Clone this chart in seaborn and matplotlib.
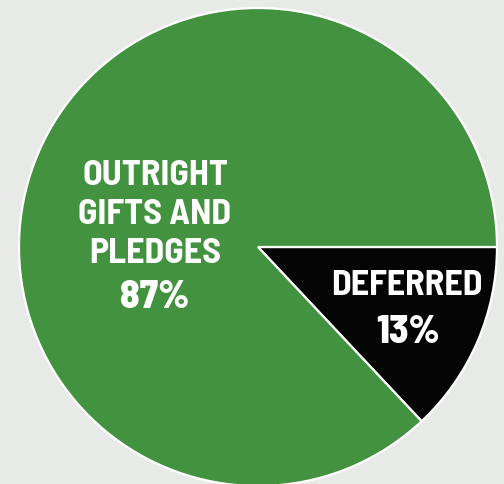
import matplotlib
matplotlib.use("Agg")
import matplotlib.pyplot as plt
import seaborn as sns

# data
categories = ["DEFERRED", "OUTRIGHT GIFTS AND PLEDGES"]
shares = [13, 87]
slice_colors = ["#050505", "#43923f"]
label_lines = [["DEFERRED"], ["OUTRIGHT", "GIFTS AND", "PLEDGES"]]

sns.set_style("white")
plt.rcParams["font.family"] = ["Barlow Semi Condensed", "DejaVu Sans"]

bg = "#e8eae8"
fig = plt.figure(figsize=(5.04, 4.85), dpi=100, facecolor=bg)
ax = fig.add_axes([0, 0, 1, 1])
ax.set_facecolor(bg)

ax.pie(shares, colors=slice_colors, startangle=0, counterclock=False,
       radius=1.0, wedgeprops=dict(edgecolor="white", linewidth=1.6))

# frame: centre sits at (258, 248) px, radius 239 px
r_px = 239
ax.set_xlim(-258 / r_px, (504 - 258) / r_px)
ax.set_ylim(-(485 - 248) / r_px, 248 / r_px)
ax.set_aspect("equal")
ax.axis("off")

def px(x, y):
    return (x - 258) / r_px, (248 - y) / r_px

lab = dict(color="white", fontsize=26, fontweight="bold", ha="center", va="baseline")
num = dict(color="white", fontsize=28.5, fontweight="heavy", ha="center", va="baseline")

# big slice label
for y, line in zip([185, 223.5, 263], label_lines[1]):
    ax.text(*px(155, y), line, **lab)
ax.text(*px(155, 308), f"{shares[1]}%", **num)

# small slice label
ax.text(*px(407, 295), label_lines[0][0], **lab)
ax.text(*px(408, 343), f"{shares[0]}%", **num)

fig.savefig("out.png", dpi=100, facecolor=bg)
